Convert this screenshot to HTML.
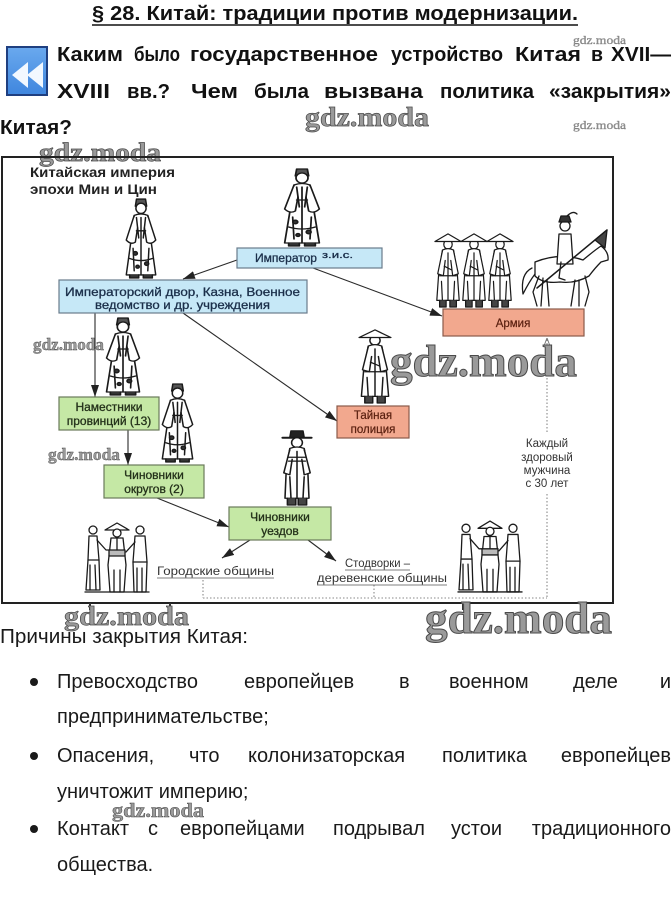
<!DOCTYPE html>
<html><head><meta charset="utf-8"><style>
html,body{margin:0;padding:0;background:#fff;}
body{width:672px;height:909px;overflow:hidden;}
svg{display:block;}
</style></head><body>
<svg width="672" height="909" viewBox="0 0 672 909" xmlns="http://www.w3.org/2000/svg" font-family="'Liberation Sans', 'Noto Sans CJK SC', sans-serif">
<defs>
<marker id="ah" markerUnits="userSpaceOnUse" markerWidth="12" markerHeight="8" refX="12" refY="4" orient="auto"><path d="M0,0 L12,4 L0,8 Z" fill="#222"/></marker>
<marker id="ahs" markerUnits="userSpaceOnUse" markerWidth="8" markerHeight="6" refX="8" refY="3" orient="auto"><path d="M0,0 L8,3 L0,6" fill="none" stroke="#777" stroke-width="1"/></marker>
<linearGradient id="ig" x1="0" y1="0" x2="0" y2="1"><stop offset="0" stop-color="#6aa9ee"/><stop offset="1" stop-color="#3f86de"/></linearGradient>
<symbol id="off" viewBox="0 0 30 80" preserveAspectRatio="none">
<g fill="#fff" stroke="#1a1a1a" stroke-width="1.3" stroke-linejoin="round" stroke-linecap="round">
<path d="M10,9 L11,2 L19,2 L20,9 Z" fill="#555"/>
<ellipse cx="15" cy="11" rx="4.5" ry="5"/>
<path d="M9,18 Q15,15 21,18 L24,44 L28,76 L2,76 L6,44 Z"/>
<path d="M9,18 L2,42 Q6,47 10,44 L12,30"/>
<path d="M21,18 L28,42 Q24,47 20,44 L18,30"/>
<path d="M15,20 L15,76 M5,60 Q15,64 25,60 M11,33 L19,33 M8,50 L9,72 M22,50 L21,72 M11,20 L13,40 M19,20 L17,40" fill="none"/>
<path d="M5,76 L5,79 L13,79 L13,76 M17,76 L17,79 L25,79 L25,76" fill="#333"/>
<circle cx="10" cy="55" r="1.8" fill="#333"/><circle cx="20" cy="65" r="1.8" fill="#333"/><circle cx="12" cy="68" r="1.5" fill="#333"/>
</g></symbol>
<symbol id="sol" viewBox="0 0 30 80" preserveAspectRatio="none">
<g fill="#fff" stroke="#1a1a1a" stroke-width="1.3" stroke-linejoin="round" stroke-linecap="round">
<ellipse cx="15" cy="13" rx="4.5" ry="5"/>
<path d="M1,10 L15,2 L29,10 Z"/>
<path d="M9,19 Q15,16 21,19 L25,44 L27,72 L3,72 L5,44 Z"/>
<path d="M9,20 L4,44 L10,46 L12,30 M21,20 L26,44 L20,46 L18,30"/>
<path d="M15,22 L15,72 M11,36 L19,40 M8,52 L9,72 M22,52 L21,72 M6,46 L24,46" fill="none"/>
<path d="M6,72 L6,79 L13,79 L13,72 M17,72 L17,79 L24,79 L24,72" fill="#444"/>
</g></symbol>
<symbol id="hat" viewBox="0 0 30 80" preserveAspectRatio="none">
<g fill="#fff" stroke="#1a1a1a" stroke-width="1.3" stroke-linejoin="round" stroke-linecap="round">
<path d="M9,10 L10,3 L20,3 L21,10 Z" fill="#222"/>
<path d="M3,10 L27,10" stroke-width="2"/>
<ellipse cx="15" cy="15" rx="4.5" ry="5"/>
<path d="M9,21 Q15,18 21,21 L24,44 L25,72 L5,72 L6,44 Z"/>
<path d="M9,22 L4,46 L9,48 L11,32 M21,22 L26,46 L21,48 L19,32"/>
<path d="M8,30 L22,30 M8,34 L22,34 M15,24 L15,72 M9,50 L10,72 M21,50 L20,72" fill="none"/>
<path d="M7,72 L7,79 L14,79 L14,72 M16,72 L16,79 L23,79 L23,72" fill="#444"/>
</g></symbol>
<symbol id="grp" viewBox="0 0 70 74" preserveAspectRatio="none">
<g fill="#fff" stroke="#1a1a1a" stroke-width="1.3" stroke-linejoin="round" stroke-linecap="round">
<circle cx="11" cy="10" r="4"/><path d="M7,16 L15,16 L17,40 L18,70 L4,70 L6,40 Z"/><path d="M15,20 L24,30 L28,30"/><path d="M8,45 L8,70 M13,45 L14,70 M6,40 L17,40" fill="none"/>
<path d="M23,10 L35,3 L47,10 Z"/><circle cx="35" cy="13" r="4"/><path d="M29,18 L41,18 L44,45 L42,72 L28,72 L26,45 Z"/><path d="M27,30 L43,30 L43,36 L27,36 Z" fill="#bbb"/><path d="M32,50 L32,72 M38,50 L38,72 M35,18 L35,30" fill="none"/>
<circle cx="58" cy="10" r="4"/><path d="M53,16 L63,16 L65,42 L64,72 L52,72 L51,42 Z"/><path d="M53,22 L44,32"/><path d="M55,48 L55,72 M60,48 L60,72 M51,42 L65,42" fill="none"/>
<path d="M3,72 L67,72" fill="none"/>
</g></symbol>
</defs>

<!-- Header -->
<text x="92" y="20" font-size="20" font-weight="bold" fill="#111" textLength="486" lengthAdjust="spacingAndGlyphs">§ 28. Китай: традиции против модернизации.</text>
<line x1="92" y1="25" x2="578" y2="25" stroke="#111" stroke-width="1.6"/>

<rect x="7" y="47" width="40" height="48" fill="url(#ig)" stroke="#1f3f80" stroke-width="2"/>
<polygon points="28,62 12,75 28,88" fill="#f2f8ff"/>
<polygon points="43,62 27,75 43,88" fill="#f2f8ff"/>

<g font-size="20" font-weight="bold" fill="#111" lengthAdjust="spacingAndGlyphs">
<text x="57" y="61" textLength="66" lengthAdjust="spacingAndGlyphs">Каким</text>
<text x="134" y="61" textLength="46" lengthAdjust="spacingAndGlyphs">было</text>
<text x="190" y="61" textLength="188" lengthAdjust="spacingAndGlyphs">государственное</text>
<text x="391" y="61" textLength="112" lengthAdjust="spacingAndGlyphs">устройство</text>
<text x="515" y="61" textLength="66" lengthAdjust="spacingAndGlyphs">Китая</text>
<text x="591" y="61" textLength="12" lengthAdjust="spacingAndGlyphs">в</text>
<text x="611" y="61" textLength="60" lengthAdjust="spacingAndGlyphs">XVII—</text>
<text x="57" y="98" textLength="53" lengthAdjust="spacingAndGlyphs">XVIII</text>
<text x="127" y="98" textLength="43" lengthAdjust="spacingAndGlyphs">вв.?</text>
<text x="191" y="98" textLength="47" lengthAdjust="spacingAndGlyphs">Чем</text>
<text x="254" y="98" textLength="55" lengthAdjust="spacingAndGlyphs">была</text>
<text x="324" y="98" textLength="99" lengthAdjust="spacingAndGlyphs">вызвана</text>
<text x="440" y="98" textLength="94" lengthAdjust="spacingAndGlyphs">политика</text>
<text x="549" y="98" textLength="122" lengthAdjust="spacingAndGlyphs">«закрытия»</text>
<text x="0" y="134" textLength="72" lengthAdjust="spacingAndGlyphs">Китая?</text>
</g>

<!-- watermarks top -->
<g font-family="'Liberation Serif', serif" fill="#9a9a9a" stroke="#4a4a4a">
<text x="573" y="44" font-size="12" stroke-width="0.2" textLength="53" lengthAdjust="spacingAndGlyphs">gdz.moda</text>
<text x="305" y="126" font-size="27" font-weight="bold" stroke-width="0.7" textLength="124" lengthAdjust="spacingAndGlyphs">gdz.moda</text>
<text x="573" y="129" font-size="12" stroke-width="0.2" textLength="53" lengthAdjust="spacingAndGlyphs">gdz.moda</text>
<text x="39" y="161" font-size="26" font-weight="bold" stroke-width="0.7" textLength="122" lengthAdjust="spacingAndGlyphs">gdz.moda</text>
</g>

<!-- Diagram frame -->
<rect x="2" y="157" width="611" height="446" fill="none" stroke="#222" stroke-width="2"/>
<g fill="#333"><rect x="89" y="603" width="2" height="7"/><rect x="169" y="603" width="2" height="7"/><rect x="462" y="603" width="2" height="7"/><rect x="581" y="603" width="2" height="7"/></g>

<text x="30" y="177" font-size="13.5" font-weight="bold" fill="#222" textLength="145" lengthAdjust="spacingAndGlyphs">Китайская империя</text>
<text x="30" y="194" font-size="13.5" font-weight="bold" fill="#222" textLength="127" lengthAdjust="spacingAndGlyphs">эпохи Мин и Цин</text>

<!-- figures -->
<use href="#off" x="282" y="167" width="40" height="80"/>
<use href="#off" x="124" y="197" width="34" height="82"/>
<use href="#off" x="104" y="316" width="38" height="80"/>
<use href="#off" x="160" y="382" width="35" height="81"/>
<use href="#hat" x="279" y="428" width="36" height="78"/>
<use href="#sol" x="358" y="328" width="34" height="76"/>
<use href="#sol" x="434" y="232" width="28" height="76"/>
<use href="#sol" x="460" y="232" width="28" height="76"/>
<use href="#sol" x="486" y="232" width="28" height="76"/>
<!-- rider -->
<g transform="translate(515,212)" fill="#fff" stroke="#1a1a1a" stroke-width="1.3" stroke-linejoin="round" stroke-linecap="round">
<path d="M17,56 Q5,62 8,82 Q14,70 20,62"/>
<path d="M20,50 Q45,40 68,48 Q80,38 86,34 Q94,40 93,48 L86,50 Q80,56 74,64 Q60,72 45,70 Q28,72 20,64 Z"/>
<path d="M24,64 L18,80 L22,94 M32,68 L34,94 M60,68 L56,94 M70,64 L74,80 L70,94 M28,66 L26,94 M64,68 L64,94" fill="none"/>
<path d="M44,22 L56,22 L58,52 L42,52 Z"/>
<path d="M46,50 L44,66 L50,68" fill="none"/>
<circle cx="50" cy="14" r="5"/>
<path d="M44,10 L56,10 L54,4 L46,4 Z" fill="#333"/>
<path d="M52,4 Q58,-2 62,2" fill="none"/>
<path d="M22,76 L92,18" fill="none" stroke-width="1.5"/>
<path d="M80,28 L92,18 L90,36 Z" fill="#444"/>
</g>
<use href="#grp" x="82" y="520" width="70" height="74"/>
<use href="#grp" x="455" y="518" width="70" height="76"/>

<!-- connectors -->
<g stroke="#2a2a2a" stroke-width="1.1" fill="none">
<line x1="237" y1="260" x2="183" y2="279" marker-end="url(#ah)"/>
<line x1="313" y1="268" x2="442" y2="316" marker-end="url(#ah)"/>
<line x1="95" y1="313" x2="95" y2="397" marker-end="url(#ah)"/>
<line x1="183" y1="313" x2="337" y2="421" marker-end="url(#ah)"/>
<line x1="128" y1="430" x2="128" y2="465" marker-end="url(#ah)"/>
<line x1="157" y1="498" x2="229" y2="527" marker-end="url(#ah)"/>
<line x1="250" y1="540" x2="222" y2="558" marker-end="url(#ah)"/>
<line x1="308" y1="540" x2="336" y2="561" marker-end="url(#ah)"/>
</g>
<g stroke="#888" stroke-width="1.1" fill="none" stroke-dasharray="1.5,2">
<line x1="547" y1="432" x2="547" y2="338" marker-end="url(#ahs)"/>
<line x1="547" y1="494" x2="547" y2="598"/>
<line x1="203" y1="580" x2="203" y2="598"/>
<line x1="374" y1="585" x2="374" y2="598"/>
<line x1="203" y1="598" x2="547" y2="598"/>
</g>

<!-- boxes -->
<g stroke-width="1.2">
<rect x="237" y="248" width="145" height="20" fill="#c6e8f7" stroke="#6a7c8c"/>
<rect x="59" y="280" width="248" height="33" fill="#c6e8f7" stroke="#6a7c8c"/>
<rect x="59" y="397" width="100" height="33" fill="#c5e8a5" stroke="#6a7a5a"/>
<rect x="104" y="465" width="100" height="33" fill="#c5e8a5" stroke="#6a7a5a"/>
<rect x="229" y="507" width="102" height="33" fill="#c5e8a5" stroke="#6a7a5a"/>
<rect x="443" y="309" width="141" height="27" fill="#f2a88e" stroke="#8a5a4a"/>
<rect x="337" y="406" width="72" height="32" fill="#f2a88e" stroke="#8a5a4a"/>
</g>
<g font-size="12" fill="#1b2f4a" stroke="#1b2f4a" stroke-width="0.3">
<text x="255" y="262" textLength="62" lengthAdjust="spacingAndGlyphs">Император</text>
<text x="322" y="258" font-size="9" textLength="31" lengthAdjust="spacingAndGlyphs">з.и.с.</text>
<text x="65" y="296" textLength="235" lengthAdjust="spacingAndGlyphs">Императорский двор, Казна, Военное</text>
<text x="95" y="309" textLength="175" lengthAdjust="spacingAndGlyphs">ведомство и др. учреждения</text>
</g>
<g font-size="12" fill="#24311a" stroke="#24311a" stroke-width="0.3" text-anchor="middle">
<text x="109" y="411">Наместники</text>
<text x="109" y="425">провинций (13)</text>
<text x="154" y="479">Чиновники</text>
<text x="154" y="493">округов (2)</text>
<text x="280" y="521">Чиновники</text>
<text x="280" y="535">уездов</text>
</g>
<g font-size="11.5" fill="#5a2010" stroke="#5a2010" stroke-width="0.2" text-anchor="middle">
<text x="513" y="327">Армия</text>
<text x="373" y="419">Тайная</text>
<text x="373" y="433">полиция</text>
</g>
<g font-size="11.5" fill="#333" text-anchor="middle">
<text x="547" y="447">Каждый</text>
<text x="547" y="461">здоровый</text>
<text x="547" y="474">мужчина</text>
<text x="547" y="487">с 30 лет</text>
</g>
<g font-size="11.5" fill="#333">
<text x="157" y="575" textLength="117" lengthAdjust="spacingAndGlyphs">Городские общины</text>
<text x="345" y="567" textLength="65" lengthAdjust="spacingAndGlyphs">Стодворки –</text>
<text x="317" y="582" textLength="130" lengthAdjust="spacingAndGlyphs">деревенские общины</text>
</g>
<g stroke="#555" stroke-width="0.8"><line x1="157" y1="578" x2="274" y2="578"/><line x1="345" y1="570" x2="410" y2="570"/><line x1="317" y1="585" x2="447" y2="585"/></g>

<!-- diagram watermarks -->
<g font-family="'Liberation Serif', serif" font-weight="bold" fill="#9a9a9a" stroke="#4a4a4a">
<text x="33" y="350" font-size="17" stroke-width="0.4" textLength="71" lengthAdjust="spacingAndGlyphs">gdz.moda</text>
<text x="390" y="376" font-size="44" stroke-width="1" textLength="187" lengthAdjust="spacingAndGlyphs">gdz.moda</text>
<text x="48" y="460" font-size="17" stroke-width="0.4" textLength="72" lengthAdjust="spacingAndGlyphs">gdz.moda</text>
<text x="64" y="625" font-size="27" stroke-width="0.7" textLength="125" lengthAdjust="spacingAndGlyphs">gdz.moda</text>
<text x="425" y="633" font-size="44" stroke-width="1" textLength="187" lengthAdjust="spacingAndGlyphs">gdz.moda</text>
<text x="112" y="817" font-size="20" stroke-width="0.5" textLength="92" lengthAdjust="spacingAndGlyphs">gdz.moda</text>
</g>

<!-- bottom text -->
<g font-size="20" fill="#1a1a1a">
<text x="0" y="643" textLength="248" lengthAdjust="spacingAndGlyphs">Причины закрытия Китая:</text>
<circle cx="34" cy="682" r="4"/>
<text x="57" y="688">Превосходство</text><text x="244" y="688">европейцев</text><text x="399" y="688">в</text><text x="449" y="688">военном</text><text x="573" y="688">деле</text><text x="671" y="688" text-anchor="end">и</text>
<text x="57" y="723">предпринимательстве;</text>
<circle cx="34" cy="756" r="4"/>
<text x="57" y="762">Опасения,</text><text x="189" y="762">что</text><text x="248" y="762">колонизаторская</text><text x="442" y="762">политика</text><text x="671" y="762" text-anchor="end">европейцев</text>
<text x="57" y="798">уничтожит империю;</text>
<circle cx="34" cy="829" r="4"/>
<text x="57" y="835">Контакт</text><text x="148" y="835">с</text><text x="180" y="835">европейцами</text><text x="333" y="835">подрывал</text><text x="451" y="835">устои</text><text x="671" y="835" text-anchor="end">традиционного</text>
<text x="57" y="871">общества.</text>
</g>
</svg>
</body></html>
